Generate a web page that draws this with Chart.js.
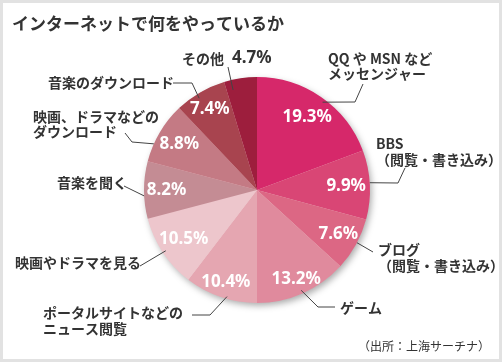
<!DOCTYPE html>
<html>
<head>
<meta charset="utf-8">
<script src="https://cdn.jsdelivr.net/npm/chart.js@4"></script>
<style>
  html, body { margin: 0; padding: 0; background: #fff; }
  #frame { position: absolute; left: 0; top: 0; width: 502px; height: 362px; box-sizing: border-box; border: 3px solid #e2e2e2; background: #fff; }
  #chart { position: absolute; left: 0; top: 0; }
</style>
</head>
<body>
<div id="frame"></div>
<canvas id="chart" width="502" height="362"></canvas>
<script>
// Data
const title = 'インターネットで何をやっているか';
const source = '（出所：上海サーチナ）';
const categories = [
  ['QQ や MSN など', 'メッセンジャー'],
  ['BBS', '（閲覧・書き込み）'],
  ['ブログ', '（閲覧・書き込み）'],
  ['ゲーム'],
  ['ポータルサイトなどの', 'ニュース閲覧'],
  ['映画やドラマを見る'],
  ['音楽を聞く'],
  ['映画、ドラマなどの', 'ダウンロード'],
  ['音楽のダウンロード'],
  ['その他']
];
const shares = [19.3, 9.9, 7.6, 13.2, 10.4, 10.5, 8.2, 8.8, 7.4, 4.7];
const sliceColors = ['#d6286a', '#d94675', '#dc6784', '#e08a9d', '#e5a6b1', '#edc6cc', '#c48c94', '#c47a84', '#a8444f', '#9d1e3d'];

// Label layout (text placement + leader elbows, leader end is taken from the arc)
const labelLayout = [
  { x: 328, y: 58.5, pts: [[363, 84], [355, 102]], da: 2, rf: 0.97 },
  { x: 376, y: 144, pts: [[405, 168], [398, 183]], da: -1, rf: 1.0 },
  { x: 378, y: 250, pts: [[373, 252]], da: -1, rf: 1.0 },
  { x: 340, y: 307.5, pts: [[335, 307], [318, 307]], da: 0, rf: 0.97 },
  { x: 43, y: 313, pts: [[192, 315], [210, 315]], da: -3, rf: 0.98 },
  { x: 15, y: 262.5, pts: [[140, 266]], da: 0, rf: 0.97 },
  { x: 57, y: 183, pts: [[124, 186]], da: -3, rf: 1.0 },
  { x: 33, y: 116.5, pts: [[125, 133], [132, 142]], da: -6.5, rf: 1.0 },
  { x: 48, y: 83, pts: [[173, 83], [192, 83]], da: -2, rf: 0.96 },
  { x: 182, y: 58.5, pts: [[228, 67]], da: -5, rf: 0.91 }
];
const valueRadius = [0.78, 0.79, 0.82, 0.86, 0.86, 0.78, 0.8, 0.8, 0.83, 0];

const JP = '"Noto Sans CJK JP", "Noto Sans", sans-serif';

const shadowPlugin = {
  id: 'pieShadow',
  beforeDatasetsDraw(chart) {
    const arc = chart.getDatasetMeta(0).data[0];
    if (!arc) return;
    const { x, y, outerRadius } = arc.getProps(['x', 'y', 'outerRadius'], true);
    const ctx = chart.ctx;
    ctx.save();
    ctx.shadowColor = 'rgba(0,0,0,0.35)';
    ctx.shadowBlur = 7;
    ctx.shadowOffsetX = 2;
    ctx.shadowOffsetY = 3;
    ctx.fillStyle = sliceColors[5];
    ctx.beginPath();
    ctx.arc(x, y, outerRadius - 0.5, 0, Math.PI * 2);
    ctx.fill();
    ctx.restore();
  }
};

const labelPlugin = {
  id: 'pieLabels',
  afterDraw(chart) {
    const ctx = chart.ctx;
    const meta = chart.getDatasetMeta(0);
    ctx.save();

    // title + source
    ctx.fillStyle = '#333';
    ctx.textBaseline = 'middle';
    ctx.textAlign = 'left';
    ctx.font = 'bold 17px ' + JP;
    ctx.fillText(title, 12, 23.5);
    ctx.font = '12px ' + JP;
    ctx.textAlign = 'right';
    ctx.fillText(source, 490, 346);

    meta.data.forEach((arc, i) => {
      const p = arc.getProps(['x', 'y', 'startAngle', 'endAngle', 'outerRadius'], true);
      const mid = (p.startAngle + p.endAngle) / 2;

      // value inside the slice
      if (valueRadius[i] > 0) {
        const r = p.outerRadius * valueRadius[i];
        ctx.fillStyle = '#fff';
        ctx.font = 'bold 17px "Noto Sans", sans-serif';
        ctx.textAlign = 'center';
        ctx.textBaseline = 'middle';
        ctx.fillText(shares[i].toFixed(1) + '%', p.x + r * Math.cos(mid), p.y + r * Math.sin(mid));
      }

      // leader line
      const lay = labelLayout[i];
      const a = mid + lay.da * Math.PI / 180;
      const er = p.outerRadius * lay.rf;
      ctx.strokeStyle = '#444';
      ctx.lineWidth = 1;
      ctx.beginPath();
      ctx.moveTo(lay.pts[0][0], lay.pts[0][1]);
      for (let k = 1; k < lay.pts.length; k++) ctx.lineTo(lay.pts[k][0], lay.pts[k][1]);
      ctx.lineTo(p.x + er * Math.cos(a), p.y + er * Math.sin(a));
      ctx.stroke();

      // category text
      ctx.fillStyle = '#333';
      ctx.textAlign = 'left';
      ctx.textBaseline = 'middle';
      ctx.font = 'bold 14px ' + JP;
      categories[i].forEach((line, k) => {
        ctx.fillText(line, lay.x, lay.y + k * 15.5);
      });
      if (valueRadius[i] === 0) {
        const w = ctx.measureText(categories[i][0]).width;
        ctx.font = 'bold 17px "Noto Sans", sans-serif';
        ctx.fillText(shares[i].toFixed(1) + '%', lay.x + w + 8, lay.y);
      }
    });
    ctx.restore();
  }
};

new Chart(document.getElementById('chart'), {
  type: 'pie',
  data: {
    labels: categories.map(c => c.join('')),
    datasets: [{
      data: shares,
      backgroundColor: sliceColors,
      borderWidth: 0
    }]
  },
  options: {
    responsive: false,
    animation: false,
    layout: { padding: { left: 144, top: 77, right: 132, bottom: 59 } },
    plugins: {
      legend: { display: false },
      tooltip: { enabled: false }
    }
  },
  plugins: [shadowPlugin, labelPlugin]
});
</script>
</body>
</html>
